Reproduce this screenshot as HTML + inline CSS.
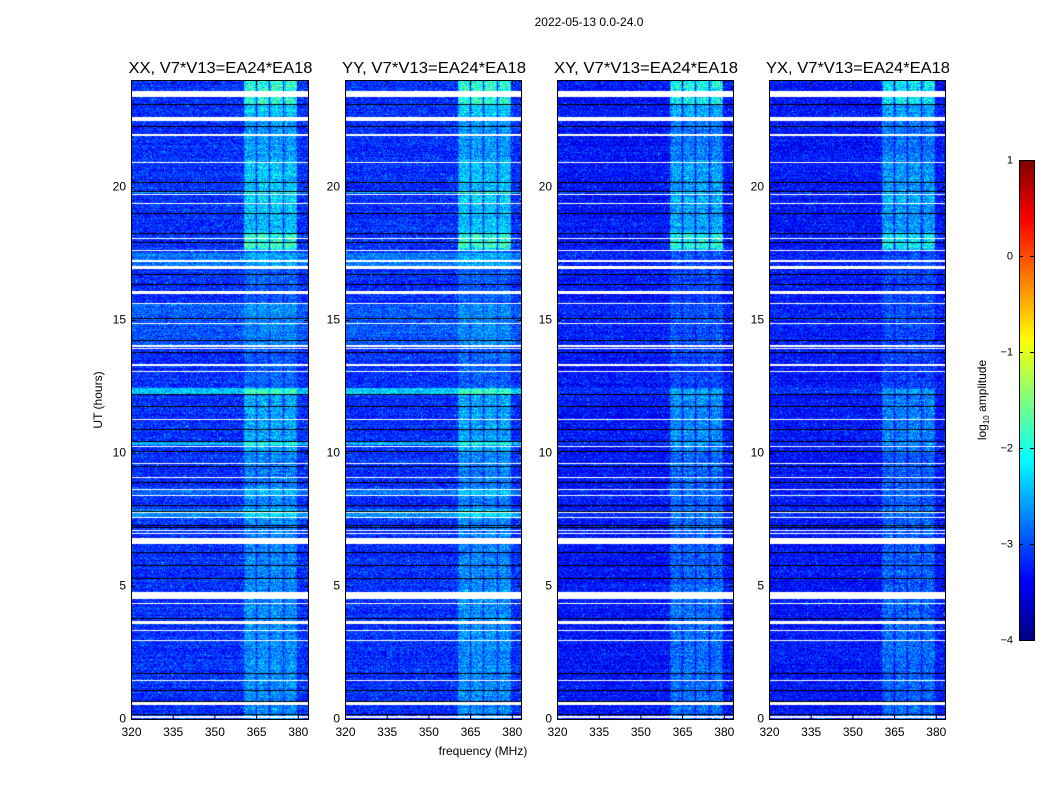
<!DOCTYPE html>
<html><head><meta charset="utf-8">
<style>
body{margin:0;background:#fff;width:1050px;height:800px;overflow:hidden;position:relative;font-family:"Liberation Sans",sans-serif}
canvas{position:absolute}
svg{position:absolute;left:0;top:0}
</style></head>
<body>
<canvas id="c0" width="177" height="639" style="left:131px;top:80px"></canvas>
<canvas id="c1" width="176" height="639" style="left:345px;top:80px"></canvas>
<canvas id="c2" width="176" height="639" style="left:557px;top:80px"></canvas>
<canvas id="c3" width="176" height="639" style="left:769px;top:80px"></canvas>
<canvas id="cb" width="15" height="480" style="left:1019px;top:160px"></canvas>
<svg id="ov" width="1050" height="800"></svg>
<script>
// ---- data ----
const panelTitles = ["XX, V7*V13=EA24*EA18","YY, V7*V13=EA24*EA18","XY, V7*V13=EA24*EA18","YX, V7*V13=EA24*EA18"];
const panelLefts = [131,345,557,769];
const xTicks = [320,335,350,365,380];
const yTicks = [0,5,10,15,20];
const cbTicks = [1,0,-1,-2,-3,-4];
// flagged (white) time ranges, hours
const whiteFlags = [[23.38,23.6],[22.47,22.52],[22.55,22.6],[21.9,21.98],[20.88,20.93],[19.67,19.72],[19.33,19.38],[18.03,18.08],[17.58,17.63],[17.18,17.23],[16.9,17.02],[15.95,16.08],[15.58,15.63],[14.82,14.87],[13.98,14.03],[13.88,13.93],[13.27,13.32],[13.02,13.07],
 [11.22,11.27],[10.21,10.26],[9.57,9.62],[9.04,9.09],[8.59,8.64],[8.37,8.42],[7.73,7.78],[7.54,7.59],[7.05,7.1],[6.95,7.0],[6.58,6.8],[4.5,4.76],[4.32,4.37],[3.56,3.67],[3.31,3.36],[2.93,2.98],[1.43,1.48],[0.53,0.65],[0.05,0.1]];
// black lines (hours)
const blackLines = [23.1,22.27,20.17,19.83,19.0,18.25,17.9,16.7,16.35,15.07,14.25,13.8,12.2,11.77,10.9,10.45,10.05,9.52,8.9,8.02,7.8,7.3,7.2,6.26,5.77,5.28,3.8,1.72,1.09,0.68,0.19];
// RFI bands (MHz)
const bandLo = [360.5,365.2,370.0,375.2];
const bandHi = [365.0,369.8,374.8,379.7];
// band activity over time: [start,end,level added to log amplitude]
const bandActivity = [[22.6,24,0.9],[21.0,22.6,0.65],[18.3,21.0,0.85],[17.6,18.3,1.1],[12.4,17.6,0.3],[10.0,12.4,0.7],[5.0,10.0,0.5],[0,5.0,0.55]];
const bandPeaks = [[23.1,24,0.55],[17.7,18.2,0.4],[19.4,19.6,0.2]];
// broadband raised rows: [start,end,level]
const rowRaise = [[12.18,12.45,0.75],[19.74,19.83,0.7],[10.3,10.43,0.6],[7.6,7.9,0.45],[16.9,17.5,0.35],[14.0,15.6,0.2],[8.4,8.6,0.3]];
const panelBase = [-3.15,-3.15,-3.3,-3.3];
const panelRowScale = [1,1,0.25,0.25];
const panelBandScale = [1,1,1,0.9];
const vmin=-4,vmax=1,tmax=24,fmin=320,pxPerMHz=2.78;

function jet(v){let t=(v-vmin)/(vmax-vmin);t=Math.max(0,Math.min(1,t));
 const c=x=>Math.max(0,Math.min(1,x));
 return [c(1.5-Math.abs(4*t-3))*255,c(1.5-Math.abs(4*t-2))*255,c(1.5-Math.abs(4*t-1))*255];}
function hash(a,b,s){let h=(a*374761393+b*668265263+s*982451653)|0;h=(h^(h>>>13))*1274126177|0;h=h^(h>>>16);return (h>>>0)/4294967296;}
const H=639;
function yOf(h){return 719-h*(H/tmax);}

for(let p=0;p<4;p++){
 const cv=document.getElementById('c'+p),ctx=cv.getContext('2d'),W=cv.width;
 const img=ctx.createImageData(W,H);
 for(let r=0;r<H;r++){
  const h=(H-r-0.5)/H*tmax;
  let white=whiteFlags.some(f=>h>=f[0]&&h<=f[1]);
  let rowAdd=0;rowRaise.forEach(f=>{if(h>=f[0]&&h<=f[1])rowAdd+=f[2]*panelRowScale[p];});
  let act=0;bandActivity.forEach(f=>{if(h>=f[0]&&h<f[1])act=f[2];});
  bandPeaks.forEach(f=>{if(h>=f[0]&&h<=f[1])act+=f[2];});
  const rowN=(hash(r,7,p)-0.5)*0.2;
  for(let c=0;c<W;c++){
   const fr=fmin+(c+0.5)/pxPerMHz;
   let v=panelBase[p]+rowN+rowAdd;
   for(let b=0;b<4;b++)if(fr>=bandLo[b]&&fr<=bandHi[b]){
     const edge=Math.min(fr-bandLo[b],bandHi[b]-fr)<0.5?0.7:1;
     v+=act*panelBandScale[p]*edge*(0.55+0.6*hash(r,c,b+3));}
   const n=hash(r,c,p+11);v+=(n-0.5)*0.75+(n>0.985?0.45:0);
   let col=white?[255,255,255]:jet(v);
   const i=(r*W+c)*4;img.data[i]=col[0];img.data[i+1]=col[1];img.data[i+2]=col[2];img.data[i+3]=255;
  }
 }
 ctx.putImageData(img,0,0);
 ctx.fillStyle='#000';
 blackLines.forEach(h=>{ctx.fillRect(0,Math.round(yOf(h)-80),W,1);});
}
// colorbar
(function(){const cv=document.getElementById('cb'),ctx=cv.getContext('2d');
 for(let y=0;y<480;y++){const v=vmax-(y+0.5)/480*(vmax-vmin);const c=jet(v);ctx.fillStyle=`rgb(${c[0]|0},${c[1]|0},${c[2]|0})`;ctx.fillRect(0,y,15,1);}})();

const ns='http://www.w3.org/2000/svg',ov=document.getElementById('ov');
function el(tag,attrs,txt){const e=document.createElementNS(ns,tag);for(const k in attrs)e.setAttribute(k,attrs[k]);if(txt!==undefined)e.textContent=txt;ov.appendChild(e);return e;}
let t=el('text',{x:589,y:26,'font-size':12,'text-anchor':'middle','font-family':'Liberation Sans'},'2022-05-13 0.0-24.0');


panelLefts.forEach((L,p)=>{
 const W=p==0?177:176;
 let r=el('rect',{x:L+0.5,y:80.5,width:W,height:639,fill:'none',stroke:'#000','stroke-width':1});
 
 
 let tt=el('text',{x:L+W/2+1,y:73,'font-size':16,'text-anchor':'middle','font-family':'Liberation Sans',textLength:184,lengthAdjust:'spacingAndGlyphs'},panelTitles[p]);
 
 
 xTicks.forEach(f=>{const x=L+(f-fmin)*pxPerMHz+0.5;
  el('line',{x1:x,x2:x,y1:719,y2:715,stroke:'#000'});el('line',{x1:x,x2:x,y1:81,y2:85,stroke:'#000'});
  let lb=el('text',{x:x,y:736,'font-size':12,'text-anchor':'middle','font-family':'Liberation Sans'},String(f));
  
  });
 yTicks.forEach(h=>{const y=Math.round(yOf(h))+0.5;
  el('line',{x1:L,x2:L+4,y1:y,y2:y,stroke:'#000'});el('line',{x1:L+W,x2:L+W-4,y1:y,y2:y,stroke:'#000'});
  let lb=el('text',{x:L-5,y:y+3,'font-size':12,'text-anchor':'end','font-family':'Liberation Sans'},String(h));
  
  });
});
let yl=el('text',{x:102,y:400,'font-size':12,'text-anchor':'middle','font-family':'Liberation Sans',transform:'rotate(-90 102 400)'},'UT (hours)');


let xl=el('text',{x:483,y:755,'font-size':12,'text-anchor':'middle','font-family':'Liberation Sans'},'frequency (MHz)');


let cbf=el('rect',{x:1019.5,y:160.5,width:15,height:480,fill:'none',stroke:'#000'});


cbTicks.forEach(v=>{const y=Math.round(160+(vmax-v)/(vmax-vmin)*480)+0.5;
 el('line',{x1:1019,x2:1023,y1:y,y2:y,stroke:'#000'});el('line',{x1:1034,x2:1030,y1:y,y2:y,stroke:'#000'});
 let lb=el('text',{x:1013,y:y+3,'font-size':11,'text-anchor':'end','font-family':'Liberation Sans'},v<0?'\u2212'+(-v):String(v));
 
 });
let cl=el('text',{x:986,y:400,'font-size':12,'text-anchor':'middle','font-family':'Liberation Sans',transform:'rotate(-90 986 400)'});


const s1=document.createElementNS(ns,'tspan');s1.textContent='log';cl.appendChild(s1);
const s2=document.createElementNS(ns,'tspan');s2.setAttribute('font-size','8');s2.setAttribute('dy','3');s2.textContent='10';cl.appendChild(s2);
const s3=document.createElementNS(ns,'tspan');s3.setAttribute('dy','-3');s3.textContent=' amplitude';cl.appendChild(s3);
</script>
</body></html>
